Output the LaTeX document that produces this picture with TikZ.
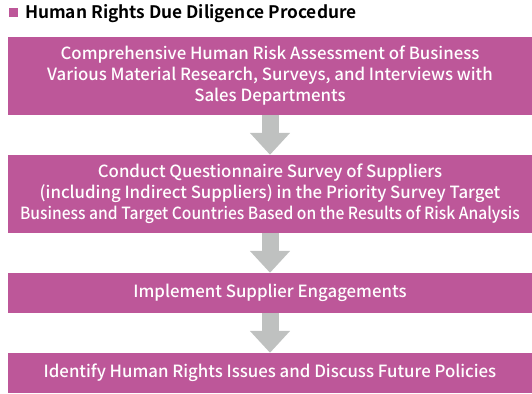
\documentclass[tikz,border=0pt]{standalone}
\usepackage{fontspec}
\setmainfont{Noto Sans CJK JP}[UprightFont={* Medium}, BoldFont={* Bold}]
\usetikzlibrary{arrows.meta}
\definecolor{stepmagenta}{RGB}{189,87,153}
\definecolor{arrowgray}{RGB}{191,193,192}

\begin{document}
\begin{tikzpicture}[x=1pt, y=1pt,
  stepbox/.style={fill=stepmagenta, text=white, minimum width=524pt, inner sep=0pt,
    align=center, font=\fontsize{16.8}{21}\selectfont},
  flow/.style={draw=arrowgray, line width=17pt, -{Triangle[width=39pt, length=22pt]}}]
  \useasboundingbox (0,0) rectangle (532,-393);
  % title
  \node (mark) at (13.5,-12.5) [fill=stepmagenta, minimum size=9pt, inner sep=0pt] {};
  \node (title) at (25,-18.3) [anchor=base west, inner sep=0pt, font=\bfseries\fontsize{17.3}{19}\selectfont] {Human Rights Due Diligence Procedure};
  % steps
  \node (S1) at (270,-75.8) [stepbox, minimum height=77.7pt] {Comprehensive Human Risk Assessment of Business\\Various Material Research, Surveys, and Interviews with\\Sales Departments};
  \node (S2) at (270,-194) [stepbox, minimum height=78pt] {Conduct Questionnaire Survey of Suppliers\\(including Indirect Suppliers) in the Priority Survey Target\\\scalebox{0.929}[1]{Business and Target Countries Based on the Results of Risk Analysis}};
  \node (S3) at (270,-293) [stepbox, minimum height=40pt] {Implement Supplier Engagements};
  \node (S4) at (270,-373) [stepbox, minimum height=40pt] {Identify Human Rights Issues and Discuss Future Policies};
  % arrows
  \draw[flow] (S1) -- (S2);
  \draw[flow] (S2) -- (S3);
  \draw[flow] (S3) -- (S4);
\end{tikzpicture}
\end{document}
